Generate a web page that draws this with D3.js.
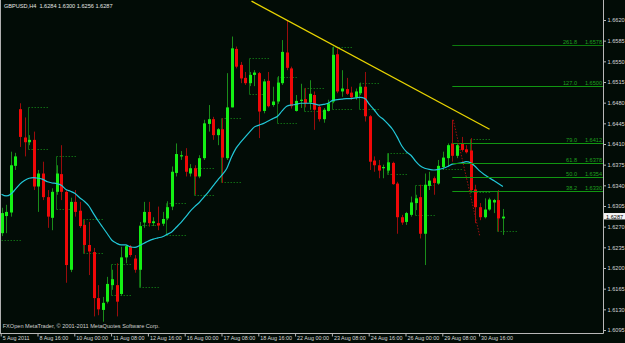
<!DOCTYPE html>
<html><head><meta charset="utf-8">
<script src="https://cdn.jsdelivr.net/npm/d3@7/dist/d3.min.js"></script>
<style>
html,body{margin:0;padding:0;background:#020c06;overflow:hidden;}
svg{display:block;}
text{font-family:"Liberation Sans",Arial,sans-serif;}
</style></head><body>
<svg id="c" width="625" height="343"></svg>
<script>
// ---- data (GBPUSD H4, 5 Aug 2011 .. 31 Aug 2011) ----
const openP = [1.6259,1.6288,1.6294,1.6373,1.6469,1.6421,1.6413,1.6417,1.6338,1.6360,
1.6320,1.6285,1.6329,1.6359,1.6329,1.6197,1.6312,1.6297,1.6273,1.6239,
1.6227,1.6149,1.6129,1.6143,1.6171,1.6171,1.6156,1.6218,1.6236,1.6216,
1.6197,1.6277,1.6295,1.6276,1.6276,1.6275,1.6284,1.6304,1.6361,1.6390,
1.6390,1.6360,1.6369,1.6355,1.6386,1.6444,1.6452,1.6425,1.6435,1.6386,
1.6472,1.6571,1.6544,1.6522,1.6513,1.6527,1.6530,1.6466,1.6517,1.6476,
1.6482,1.6513,1.6565,1.6538,1.6466,1.6483,1.6486,1.6480,1.6493,1.6473,
1.6452,1.6466,1.6482,1.6562,1.6499,1.6503,1.6497,1.6489,1.6496,1.6507,
1.6457,1.6382,1.6374,1.6369,1.6365,1.6378,1.6343,1.6286,1.6278,1.6290,
1.6310,1.6320,1.6258,1.6339,1.6352,1.6343,1.6371,1.6386,1.6411,1.6390,
1.6410,1.6401,1.6399,1.6333,1.6303,1.6286,1.6299,1.6311,1.6315,1.6284];
const highP = [1.6302,1.6307,1.6397,1.6395,1.6479,1.6455,1.6425,1.6431,1.6366,1.6380,
1.6332,1.6335,1.6374,1.6408,1.6332,1.6319,1.6332,1.6312,1.6281,1.6278,
1.6234,1.6171,1.6151,1.6185,1.6197,1.6208,1.6236,1.6239,1.6239,1.6222,
1.6278,1.6312,1.6312,1.6286,1.6304,1.6295,1.6313,1.6372,1.6411,1.6398,
1.6403,1.6376,1.6374,1.6391,1.6451,1.6476,1.6456,1.6437,1.6454,1.6530,
1.6592,1.6575,1.6549,1.6532,1.6532,1.6535,1.6532,1.6520,1.6532,1.6507,
1.6525,1.6586,1.6620,1.6541,1.6493,1.6512,1.6505,1.6518,1.6499,1.6476,
1.6471,1.6485,1.6575,1.6572,1.6535,1.6522,1.6507,1.6504,1.6514,1.6532,
1.6459,1.6389,1.6383,1.6375,1.6394,1.6380,1.6346,1.6290,1.6295,1.6321,
1.6324,1.6341,1.6360,1.6363,1.6355,1.6383,1.6397,1.6411,1.6451,1.6411,
1.6422,1.6408,1.6420,1.6341,1.6310,1.6318,1.6319,1.6317,1.6332,1.6300];
const lowP = [1.6254,1.6259,1.6287,1.6366,1.6405,1.6389,1.6408,1.6332,1.6295,1.6315,
1.6268,1.6264,1.6324,1.6315,1.6175,1.6193,1.6287,1.6268,1.6225,1.6188,
1.6118,1.6120,1.6109,1.6140,1.6163,1.6118,1.6153,1.6208,1.6219,1.6192,
1.6168,1.6268,1.6270,1.6271,1.6264,1.6271,1.6281,1.6298,1.6355,1.6383,
1.6355,1.6355,1.6324,1.6352,1.6383,1.6431,1.6417,1.6408,1.6344,1.6383,
1.6472,1.6538,1.6513,1.6510,1.6508,1.6508,1.6420,1.6462,1.6472,1.6473,
1.6478,1.6510,1.6535,1.6470,1.6465,1.6471,1.6472,1.6468,1.6434,1.6448,
1.6446,1.6465,1.6479,1.6496,1.6490,1.6493,1.6485,1.6485,1.6493,1.6448,
1.6366,1.6363,1.6352,1.6352,1.6360,1.6341,1.6258,1.6273,1.6273,1.6287,
1.6298,1.6250,1.6205,1.6332,1.6324,1.6341,1.6366,1.6372,1.6380,1.6386,
1.6397,1.6394,1.6329,1.6276,1.6281,1.6284,1.6297,1.6293,1.6262,1.6256];
const closeP = [1.6293,1.6295,1.6374,1.6389,1.6422,1.6413,1.6417,1.6338,1.6360,1.6320,
1.6287,1.6329,1.6360,1.6329,1.6205,1.6312,1.6295,1.6271,1.6239,1.6228,
1.6149,1.6130,1.6141,1.6173,1.6181,1.6143,1.6218,1.6237,1.6222,1.6197,
1.6271,1.6295,1.6276,1.6279,1.6272,1.6283,1.6303,1.6363,1.6393,1.6391,
1.6363,1.6369,1.6355,1.6386,1.6445,1.6452,1.6425,1.6435,1.6387,1.6472,
1.6572,1.6541,1.6521,1.6513,1.6527,1.6531,1.6465,1.6516,1.6474,1.6482,
1.6514,1.6566,1.6539,1.6474,1.6483,1.6485,1.6479,1.6495,1.6468,1.6452,
1.6468,1.6479,1.6561,1.6499,1.6504,1.6495,1.6489,1.6499,1.6507,1.6457,
1.6380,1.6374,1.6365,1.6371,1.6379,1.6342,1.6286,1.6277,1.6293,1.6311,
1.6318,1.6258,1.6341,1.6348,1.6344,1.6373,1.6387,1.6408,1.6390,1.6408,
1.6400,1.6396,1.6332,1.6303,1.6286,1.6299,1.6316,1.6315,1.6284,1.6287];
const maP = [1.6325,1.6322,1.6325,1.6333,1.6342,1.6348,1.6352,1.6353,1.6352,1.6350,
1.6346,1.6344,1.6343,1.6340,1.6333,1.6330,1.6326,1.6319,1.6313,1.6305,
1.6292,1.6280,1.6269,1.6258,1.6247,1.6242,1.6239,1.6239,1.6236,1.6235,
1.6238,1.6242,1.6246,1.6249,1.6251,1.6253,1.6257,1.6261,1.6269,1.6277,
1.6286,1.6296,1.6304,1.6311,1.6320,1.6329,1.6339,1.6349,1.6358,1.6369,
1.6388,1.6403,1.6413,1.6422,1.6431,1.6439,1.6442,1.6445,1.6449,1.6453,
1.6457,1.6466,1.6474,1.6476,1.6477,1.6479,1.6479,1.6479,1.6478,1.6476,
1.6477,1.6479,1.6484,1.6485,1.6486,1.6487,1.6487,1.6488,1.6489,1.6487,
1.6477,1.6468,1.6458,1.6452,1.6444,1.6435,1.6422,1.6407,1.6397,1.6391,
1.6381,1.6373,1.6369,1.6367,1.6366,1.6367,1.6369,1.6372,1.6376,1.6377,
1.6378,1.6380,1.6378,1.6372,1.6364,1.6358,1.6353,1.6348,1.6343,1.6338];

const xTickIdx = [0,8,16,24,32,40,48,56,64,72,80,88,96,104];
const xTickLabels = ["5 Aug 2011","8 Aug 16:00","10 Aug 00:00","11 Aug 08:00","12 Aug 16:00",
  "16 Aug 00:00","17 Aug 08:00","18 Aug 16:00","22 Aug 00:00","23 Aug 08:00",
  "24 Aug 16:00","26 Aug 00:00","29 Aug 08:00","30 Aug 16:00"];
const yTicks = [1.6620,1.6585,1.6550,1.6515,1.6480,1.6445,1.6410,1.6375,1.6340,1.6305,
  1.6270,1.6235,1.6200,1.6165,1.6130,1.6095];

// daily range boxes (start bar, top, bottom)
const boxStart  = [0,6,12,18,24,30,36,42,48,54,60,66,72,78,84,90,96,102,108];
const boxTop    = [1.6247,1.6473,1.6390,1.6283,1.6206,1.6273,1.6310,1.6369,1.6454,1.6555,1.6524,1.6504,1.6574,1.6514,1.6394,1.6341,1.6367,1.6418,1.6330];
const boxBottom = [1.6247,1.6401,1.6300,1.6225,1.6154,1.6168,1.6256,1.6324,1.6345,1.6495,1.6445,1.6466,1.6470,1.6470,1.6360,1.6290,1.6367,1.6328,1.6263];

const fibLevels = ["261.8","127.0","79.0","61.8","50.0","38.2"];
const fibPrices = [1.6578,1.6508,1.6412,1.6378,1.6354,1.6330];
const fibPriceLabels = ["1.6578","1.6500","1.6412","1.6378","1.6354","1.6330"];
const fibStart = 98;

const trendIdx = [54.35,106.1];
const trendPrice = [1.6652,1.6435];
const redIdx = [98.2,104];
const redPrice = [1.6451,1.6253];

const title = "GBPUSD,H4  1.6284 1.6300 1.6256 1.6287";
const footer = "FXOpen MetaTrader, \u00A9 2001-2011 MetaQuotes Software Corp.";
const lastPrice = 1.6287;

// ---- drawing ----
const W = 603, H = 333;
const svg = d3.select("#c");
const x = d3.scaleLinear().domain([0,109]).range([1.5,502.9]);
const y = d3.scaleLinear().domain([1.6095,1.6620]).range([330,20]);
const n = openP.length;
const bars = d3.range(n).map(i=>({i,o:openP[i],h:highP[i],l:lowP[i],c:closeP[i]}));

svg.append("rect").attr("width",625).attr("height",343).attr("fill","#020c06");
svg.append("defs").append("clipPath").attr("id","pc")
  .append("rect").attr("x",0).attr("y",0).attr("width",W).attr("height",H);
const g = svg.append("g").attr("clip-path","url(#pc)");

// boxes
const bx = g.append("g").attr("stroke","#0f6a12").attr("stroke-width",1).attr("fill","none");
boxStart.forEach((s,k)=>{
  const x0 = Math.round(x(s)-1)+0.5, x1 = x(s+4)+1;
  const yt = Math.round(y(boxTop[k]))+0.5, yb = Math.round(y(boxBottom[k]))+0.5;
  bx.append("line").attr("x1",x0).attr("x2",x1).attr("y1",yt).attr("y2",yt).attr("stroke-dasharray","1.5,1.5");
  if (yb!==yt){
    bx.append("line").attr("x1",x0).attr("x2",x1).attr("y1",yb).attr("y2",yb).attr("stroke-dasharray","1.5,1.5");
    bx.append("line").attr("x1",x0).attr("x2",x0).attr("y1",yt).attr("y2",yb);
  }
});

// candles
const cg = g.append("g");
cg.selectAll("line.w").data(bars).join("line")
  .attr("x1",d=>Math.round(x(d.i))+0.5).attr("x2",d=>Math.round(x(d.i))+0.5)
  .attr("y1",d=>y(d.h)).attr("y2",d=>y(d.l))
  .attr("stroke",d=>d.c>=d.o?"#1a8c1a":"#9a0c0c").attr("stroke-width",1);
cg.selectAll("rect.b").data(bars).join("rect")
  .attr("x",d=>Math.round(x(d.i))-1).attr("width",3)
  .attr("y",d=>y(Math.max(d.o,d.c)))
  .attr("height",d=>Math.max(1.2,Math.abs(y(d.o)-y(d.c))))
  .attr("fill",d=>d.c>=d.o?"#14f014":"#f00808");

// moving average
g.append("path").datum(maP)
  .attr("d",d3.line().x((d,i)=>x(i)).y(d=>y(d)).curve(d3.curveMonotoneX))
  .attr("fill","none").attr("stroke","#22c8d8").attr("stroke-width",1.2);

// fibo lines
const fg = g.append("g");
fibPrices.forEach((p,k)=>{
  const yy = Math.round(y(p))+0.5;
  fg.append("line").attr("x1",x(fibStart)).attr("x2",W).attr("y1",yy).attr("y2",yy)
    .attr("stroke",k===0?"#0d7a0d":"#119611").attr("stroke-width",1);
  fg.append("text").attr("x",577).attr("y",yy-1.5).attr("text-anchor","end")
    .attr("font-size",5.6).attr("fill","#1fa01f").text(fibLevels[k]);
  fg.append("text").attr("x",602).attr("y",yy-1.5).attr("text-anchor","end")
    .attr("font-size",5.6).attr("fill","#1fa01f").text(fibPriceLabels[k]);
});

// trendlines
g.append("line").attr("x1",x(trendIdx[0])).attr("y1",y(trendPrice[0]))
  .attr("x2",x(trendIdx[1])).attr("y2",y(trendPrice[1]))
  .attr("stroke","#e8d400").attr("stroke-width",1.3);
g.append("line").attr("x1",x(redIdx[0])).attr("y1",y(redPrice[0]))
  .attr("x2",x(redIdx[1])).attr("y2",y(redPrice[1]))
  .attr("stroke","#a01010").attr("stroke-width",1).attr("stroke-dasharray","1.5,1.5");

// frame
svg.append("line").attr("x1",0.5).attr("x2",0.5).attr("y1",0).attr("y2",H).attr("stroke","#b0b0b0");

// y axis
const ya = svg.append("g").attr("transform",`translate(${W+0.5},0)`)
  .call(d3.axisRight(y).tickValues(yTicks).tickSize(2.5).tickPadding(1.5).tickFormat(d3.format(".4f")));
ya.select(".domain").attr("stroke","#b8b8b8").attr("d",`M0,0V${H+0.5}`);
ya.selectAll(".tick line").attr("stroke","#b8b8b8");
ya.selectAll(".tick text").attr("fill","#d8d8d8").attr("font-size",5.6).attr("font-family","Liberation Sans, Arial, sans-serif");

// x axis
const xt = x.copy().range([x.range()[0]-0.8, x.range()[1]-0.8]);
const xa = svg.append("g").attr("transform",`translate(0,${H+0.5})`)
  .call(d3.axisBottom(xt).tickValues(xTickIdx).tickSize(3).tickFormat((d,k)=>xTickLabels[k]));
xa.select(".domain").attr("stroke","#b8b8b8").attr("d",`M0,0H${W+0.5}`);
xa.selectAll(".tick line").attr("stroke","#b8b8b8");
xa.selectAll(".tick text").attr("fill","#d8d8d8").attr("font-size",5.4)
  .attr("font-family","Liberation Sans, Arial, sans-serif")
  .attr("text-anchor","start").attr("dx",1.5).attr("y",3).attr("dy","0.71em");

// last price marker
const yl = y(lastPrice);
svg.append("rect").attr("x",604).attr("y",yl-3.6).attr("width",21).attr("height",6.4).attr("fill","#f4f4f4");
svg.append("text").attr("x",606).attr("y",yl+0.3).attr("dy","0.32em").attr("font-size",5.6)
  .attr("fill","#000").text(d3.format(".4f")(lastPrice));

// texts
svg.append("text").attr("x",4).attr("y",7.6).attr("font-size",5.6).attr("fill","#e4e4e4").text(title).attr("xml:space","preserve").style("white-space","pre");
svg.append("text").attr("x",2.7).attr("y",327.6).attr("font-size",5.6).attr("fill","#cfcfcf").text(footer);
</script>
</body></html>
